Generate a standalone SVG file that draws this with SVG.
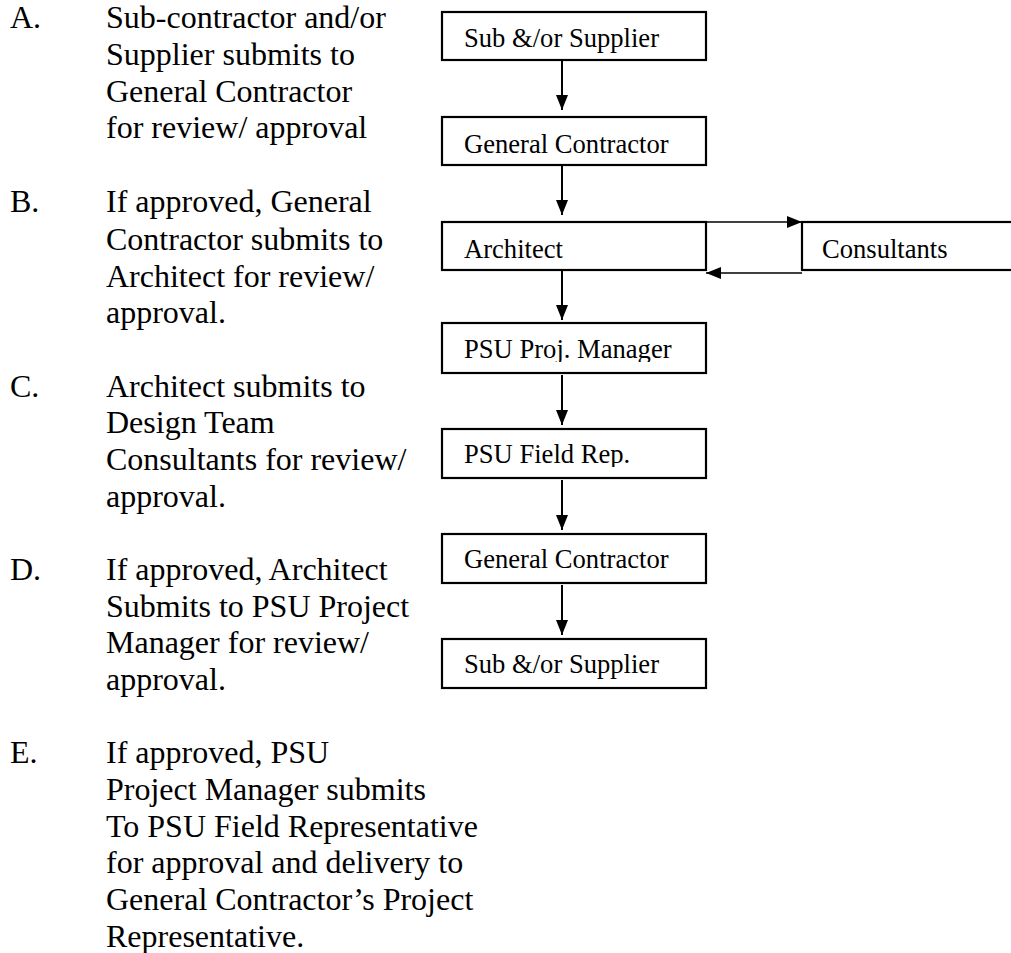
<svg xmlns="http://www.w3.org/2000/svg" width="1011" height="953" viewBox="0 0 1011 953">
<style>
.t{font-family:"Liberation Serif","Times New Roman",serif;font-size:32px;fill:#000}
.b{font-family:"Liberation Serif","Times New Roman",serif;font-size:26.6px;fill:#000}
.box{fill:#fff;stroke:#000;stroke-width:2.2}
.c{fill:none;stroke:#000;stroke-width:2}
.h{fill:none;stroke:#000;stroke-width:1.6}
</style>
<defs>
<marker id="ah" viewBox="0 0 15 12" refX="15" refY="6" markerWidth="15" markerHeight="12" markerUnits="userSpaceOnUse" orient="auto">
<path d="M0,0 L15,6 L0,12 Z" fill="#000"/>
</marker>
<clipPath id="clipPM"><rect x="442" y="323" width="264" height="39"/></clipPath>
<clipPath id="clipFR"><rect x="442" y="429" width="264" height="38"/></clipPath>
</defs>
<rect width="1011" height="953" fill="#fff"/>

<g id="steps">
<text class="t" x="10" y="28">A.</text>
<text class="t" x="106" y="28">Sub-contractor and/or</text>
<text class="t" x="106" y="65">Supplier submits to</text>
<text class="t" x="106" y="102">General Contractor</text>
<text class="t" x="106" y="138">for review/ approval</text>

<text class="t" x="10" y="212">B.</text>
<text class="t" x="106" y="212">If approved, General</text>
<text class="t" x="106" y="250">Contractor submits to</text>
<text class="t" x="106" y="287">Architect for review/</text>
<text class="t" x="106" y="323">approval.</text>

<text class="t" x="10" y="397">C.</text>
<text class="t" x="106" y="397">Architect submits to</text>
<text class="t" x="106" y="433">Design Team</text>
<text class="t" x="106" y="470">Consultants for review/</text>
<text class="t" x="106" y="507">approval.</text>

<text class="t" x="10" y="580">D.</text>
<text class="t" x="106" y="580">If approved, Architect</text>
<text class="t" x="106" y="617">Submits to PSU Project</text>
<text class="t" x="106" y="653">Manager for review/</text>
<text class="t" x="106" y="690">approval.</text>

<text class="t" x="10" y="763">E.</text>
<text class="t" x="106" y="763">If approved, PSU</text>
<text class="t" x="106" y="800">Project Manager submits</text>
<text class="t" x="106" y="837">To PSU Field Representative</text>
<text class="t" x="106" y="873">for approval and delivery to</text>
<text class="t" x="106" y="910">General Contractor’s Project</text>
<text class="t" x="106" y="947">Representative.</text>
</g>

<g id="connectors">
<path class="c" d="M562,61 L562,110" marker-end="url(#ah)"/>
<path class="c" d="M562,166 L562,215" marker-end="url(#ah)"/>
<path class="c" d="M562,271 L562,320" marker-end="url(#ah)"/>
<path class="c" d="M562,375 L562,425" marker-end="url(#ah)"/>
<path class="c" d="M562,480 L562,530" marker-end="url(#ah)"/>
<path class="c" d="M562,585 L562,635" marker-end="url(#ah)"/>
<path class="h" d="M706,222 L802,222" marker-end="url(#ah)"/>
<path class="h" d="M802,273 L706,273" marker-end="url(#ah)"/>
</g>

<g id="node-sub1">
<rect class="box" x="442" y="12" width="264" height="48"/>
<text class="b" x="464" y="47">Sub &amp;/or Supplier</text>
</g>
<g id="node-gc1">
<rect class="box" x="442" y="117" width="264" height="48"/>
<text class="b" x="464" y="153">General Contractor</text>
</g>
<g id="node-architect">
<rect class="box" x="442" y="222" width="264" height="48"/>
<text class="b" x="464" y="258">Architect</text>
</g>
<g id="node-consultants">
<rect class="box" x="802" y="222" width="220" height="48"/>
<text class="b" x="822" y="258">Consultants</text>
</g>
<g id="node-pm">
<rect class="box" x="442" y="323" width="264" height="50"/>
<text class="b" x="464" y="358" clip-path="url(#clipPM)">PSU Proj. Manager</text>
</g>
<g id="node-fieldrep">
<rect class="box" x="442" y="429" width="264" height="49"/>
<text class="b" x="464" y="463" clip-path="url(#clipFR)">PSU Field Rep.</text>
</g>
<g id="node-gc2">
<rect class="box" x="442" y="534" width="264" height="49"/>
<text class="b" x="464" y="568">General Contractor</text>
</g>
<g id="node-sub2">
<rect class="box" x="442" y="639" width="264" height="49"/>
<text class="b" x="464" y="673">Sub &amp;/or Supplier</text>
</g>
</svg>
